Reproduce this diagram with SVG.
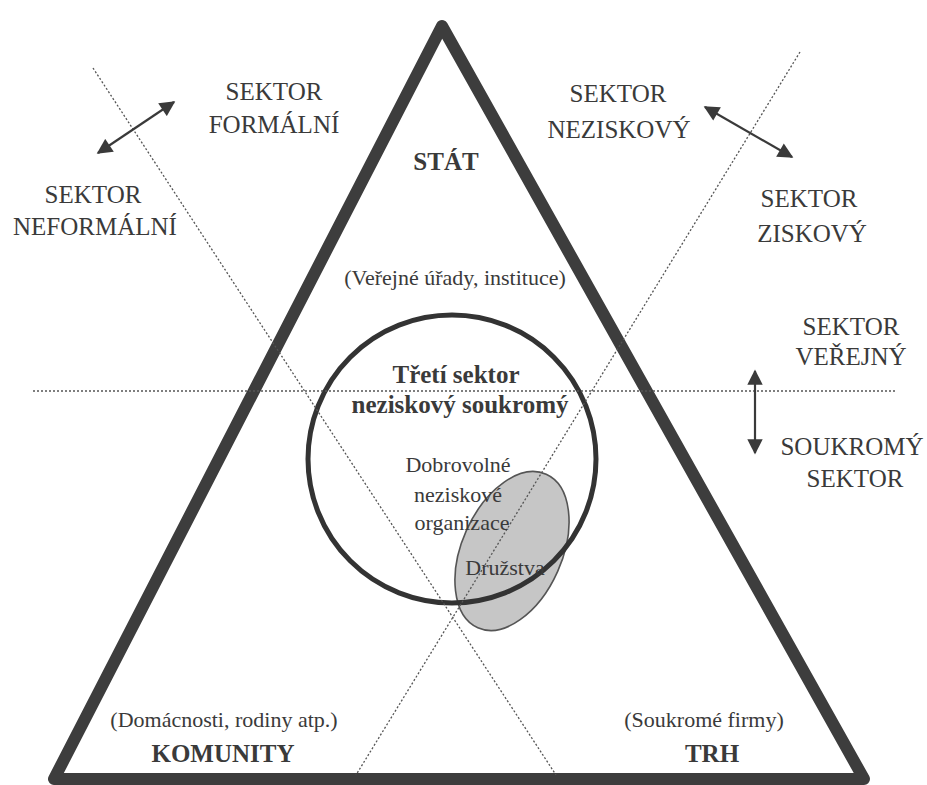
<svg xmlns="http://www.w3.org/2000/svg" width="927" height="785" viewBox="0 0 927 785">
<defs>
<style>
text{font-family:'Liberation Serif','Times New Roman','DejaVu Serif',serif;fill:#3a3a3a;text-anchor:middle}
.lbl{font-size:25px}
.sm{font-size:22px}
.b{font-weight:bold;font-size:25px}
.dot{stroke:#555;stroke-width:1.3;stroke-dasharray:2 2;fill:none}
.arr{stroke:#3a3a3a;stroke-width:2.2;fill:none;marker-start:url(#ah);marker-end:url(#ah)}
</style>
<marker id="ah" viewBox="0 0 10 10" refX="9" refY="5" markerWidth="8" markerHeight="7" orient="auto-start-reverse" markerUnits="strokeWidth">
<path d="M0,0 L10,5 L0,10 z" fill="#3a3a3a"/>
</marker>
</defs>
<rect width="927" height="785" fill="#ffffff"/>

<g id="triangle">
<polygon points="442,26 54,779 864,779" fill="none" stroke="#3d3d3d" stroke-width="12" stroke-linejoin="round"/>
</g>

<g id="druzstva-ellipse">
<ellipse cx="512" cy="551" rx="50" ry="84" transform="rotate(24 512 551)" fill="#c6c6c6" stroke="#555" stroke-width="1.6"/>
</g>

<g id="treti-sektor-circle">
<circle cx="452" cy="459" r="144" fill="none" stroke="#333" stroke-width="5"/>
</g>

<g id="connectors">
<line class="dot" x1="93" y1="68" x2="556" y2="775"/>
<line class="dot" x1="800" y1="52" x2="356" y2="775"/>
<line class="dot" x1="33" y1="391" x2="895" y2="391"/>
<line class="arr" x1="98" y1="153" x2="174" y2="102"/>
<line class="arr" x1="705" y1="107" x2="792" y2="157"/>
<line class="arr" x1="755" y1="371" x2="755" y2="453"/>
</g>

<g id="stat">
<text class="b" x="446" y="170">STÁT</text>
<text class="sm" x="455" y="285">(Veřejné úřady, instituce)</text>
</g>

<g id="sektor-formalni">
<text class="lbl" x="274" y="100">SEKTOR</text>
<text class="lbl" x="274" y="133">FORMÁLNÍ</text>
</g>
<g id="sektor-neformalni">
<text class="lbl" x="93" y="203">SEKTOR</text>
<text class="lbl" x="95" y="235">NEFORMÁLNÍ</text>
</g>
<g id="sektor-neziskovy">
<text class="lbl" x="618" y="102">SEKTOR</text>
<text class="lbl" x="619" y="138">NEZISKOVÝ</text>
</g>
<g id="sektor-ziskovy">
<text class="lbl" x="809" y="207">SEKTOR</text>
<text class="lbl" x="812" y="242">ZISKOVÝ</text>
</g>
<g id="sektor-verejny">
<text class="lbl" x="851" y="335">SEKTOR</text>
<text class="lbl" x="851" y="365">VEŘEJNÝ</text>
</g>
<g id="soukromy-sektor">
<text class="lbl" x="852" y="455">SOUKROMÝ</text>
<text class="lbl" x="855" y="487">SEKTOR</text>
</g>

<g id="treti-sektor">
<text class="b" x="456" y="383">Třetí sektor</text>
<text class="b" x="460" y="413">neziskový soukromý</text>
</g>
<g id="dobrovolne">
<text class="sm" x="458" y="472">Dobrovolné</text>
<text class="sm" x="458" y="502">neziskové</text>
<text class="sm" x="462" y="530">organizace</text>
</g>
<g id="druzstva">
<text class="sm" x="505" y="575">Družstva</text>
</g>

<g id="komunity">
<text class="sm" x="224" y="727">(Domácnosti, rodiny atp.)</text>
<text class="b" x="223" y="762">KOMUNITY</text>
</g>
<g id="trh">
<text class="sm" x="704" y="727">(Soukromé firmy)</text>
<text class="b" x="712" y="762">TRH</text>
</g>
</svg>
